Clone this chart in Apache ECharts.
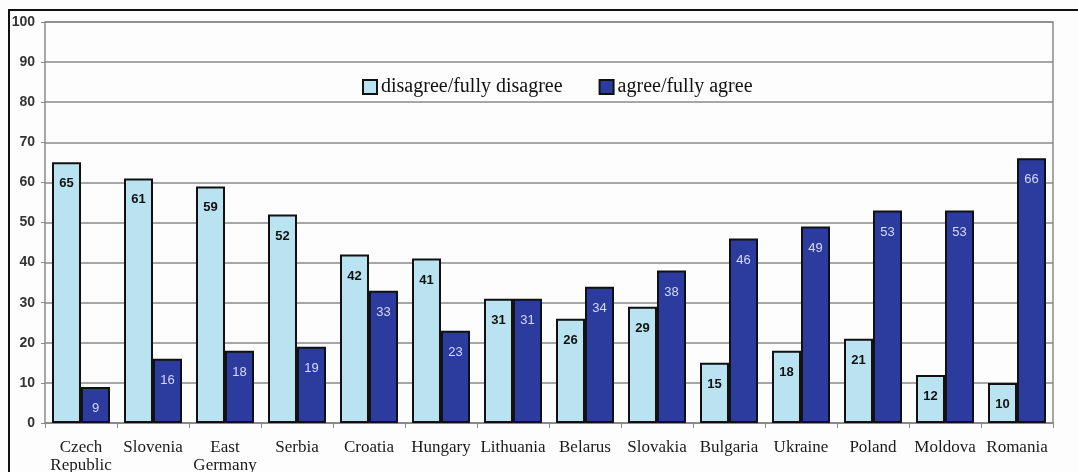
<!DOCTYPE html>
<html>
<head>
<meta charset="utf-8">
<script src="https://cdn.jsdelivr.net/npm/echarts@6/dist/echarts.min.js"></script>
<style>
  html, body { margin: 0; padding: 0; background: #fdfdfd; }
  #chart { width: 1078px; height: 472px; }
</style>
</head>
<body>
<div id="chart"></div>
<script>
// Countries along the x axis
const categories = ['Czech\nRepublic', 'Slovenia', 'East\nGermany', 'Serbia', 'Croatia', 'Hungary',
  'Lithuania', 'Belarus', 'Slovakia', 'Bulgaria', 'Ukraine', 'Poland', 'Moldova', 'Romania'];
// Share of respondents (%)
const disagreeValues = [65, 61, 59, 52, 42, 41, 31, 26, 29, 15, 18, 21, 12, 10];
const agreeValues = [9, 16, 18, 19, 33, 23, 31, 34, 38, 46, 49, 53, 53, 66];
const seriesNames = ['disagree/fully disagree', 'agree/fully agree'];

const chart = echarts.init(document.getElementById('chart'));

const valueLabel = (color, weight) => ({
  show: true,
  position: 'insideTop',
  distance: 15,
  color: color,
  fontFamily: 'Liberation Sans, Arial, sans-serif',
  fontWeight: weight,
  fontSize: 13
});

chart.setOption({
  backgroundColor: '#fdfdfd',
  animation: false,
  graphic: [{
    type: 'rect',
    shape: { x: 9, y: 10, width: 1080, height: 480 },
    style: { fill: 'none', stroke: '#111', lineWidth: 2 },
    z: 100
  }],
  legend: {
    top: 72,
    left: 357,
    itemWidth: 14,
    itemHeight: 14,
    itemGap: 36,
    textStyle: {
      fontFamily: 'Liberation Serif, Times New Roman, serif',
      fontSize: 20,
      padding: [0, 0, 0, -1],
      color: '#111'
    },
    data: seriesNames.map(n => ({ name: n, icon: 'rect' }))
  },
  grid: {
    left: 45, right: 25, top: 22, bottom: 49,
    outerBoundsMode: 'none',
    containLabel: false,
    show: true,
    borderColor: '#8a8a8a',
    borderWidth: 1.5,
    backgroundColor: 'transparent'
  },
  xAxis: {
    type: 'category',
    data: categories,
    axisLine: { show: true, lineStyle: { color: '#888', width: 1.5 } },
    axisTick: { show: true, alignWithLabel: false, length: 5, lineStyle: { color: '#888' } },
    axisLabel: {
      interval: 0,
      margin: 16,
      fontFamily: 'Liberation Serif, Times New Roman, serif',
      fontSize: 17,
      lineHeight: 18,
      color: '#1a1a1a'
    }
  },
  yAxis: {
    type: 'value',
    min: 0, max: 100, interval: 10,
    axisLine: { show: false },
    axisTick: { show: true, length: 4, lineStyle: { color: '#888' } },
    splitLine: { lineStyle: { color: '#8a8a8a', width: 1.5 } },
    axisLabel: {
      margin: 10,
      fontFamily: 'Liberation Sans, Arial, sans-serif',
      fontWeight: 'bold',
      fontSize: 14,
      color: '#333'
    }
  },
  series: [
    {
      name: seriesNames[0],
      type: 'bar',
      data: disagreeValues,
      barWidth: 29,
      barGap: '0%',
      itemStyle: { color: '#b9e3f1', borderColor: '#111', borderWidth: 2 },
      label: valueLabel('#111', 'bold')
    },
    {
      name: seriesNames[1],
      type: 'bar',
      data: agreeValues,
      barWidth: 29,
      barGap: '0%',
      itemStyle: { color: '#2b3b9e', borderColor: '#111', borderWidth: 2 },
      label: valueLabel('#d6dcf2', 'normal')
    }
  ]
});
</script>
</body>
</html>
